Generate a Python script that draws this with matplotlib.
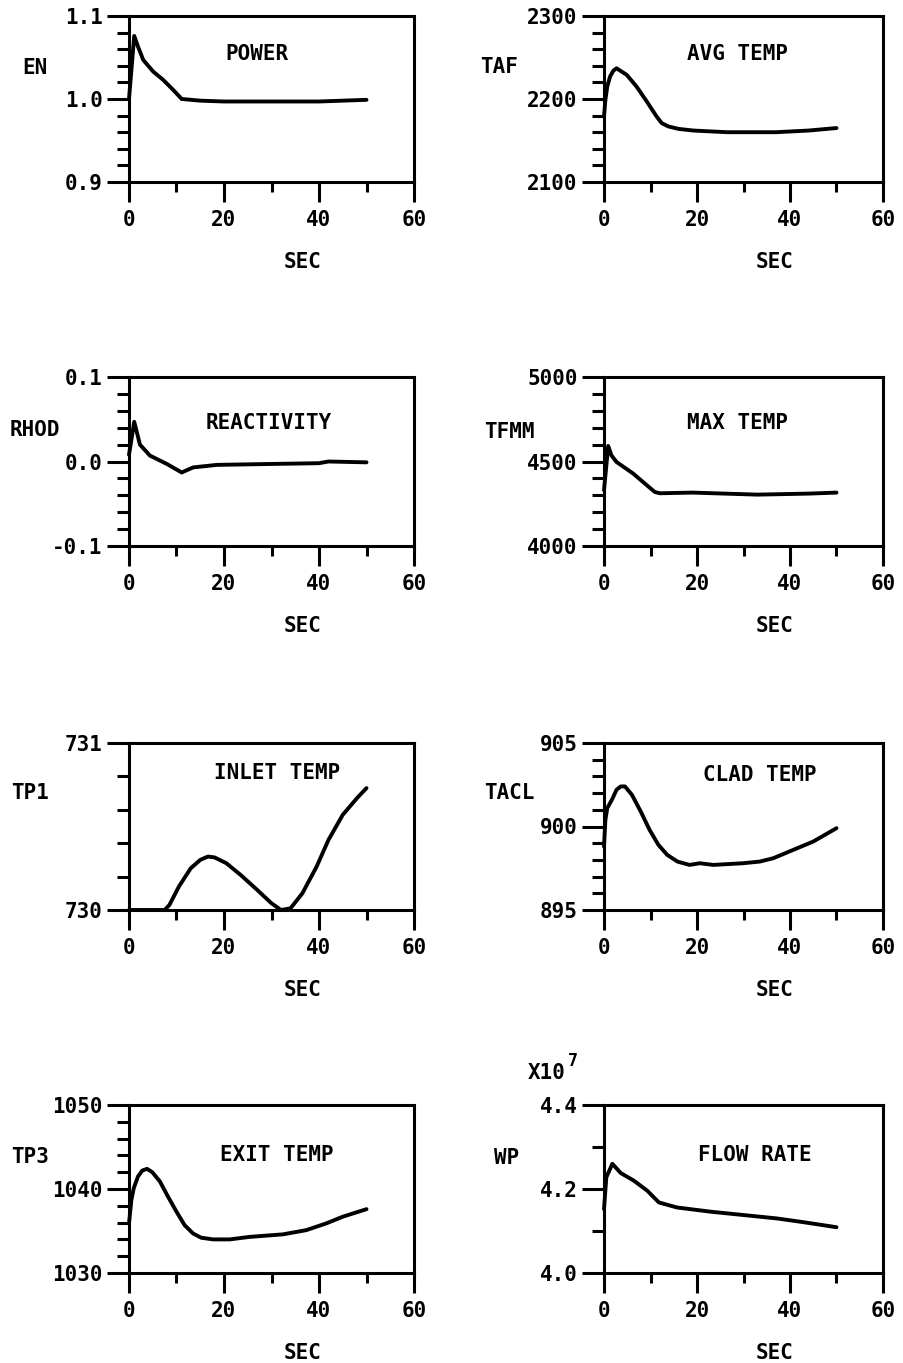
import matplotlib
matplotlib.use("Agg")
import matplotlib.pyplot as plt
from matplotlib.ticker import MultipleLocator, FixedLocator

plt.rcParams['font.family'] = ['DejaVu Sans Mono', 'DejaVu Sans']
plt.rcParams['font.weight'] = 'bold'

# ---------------- data ----------------
power_t = [0, 1.1, 1.9, 3.0, 5.1, 7.2, 9.3, 11.1, 15, 20, 30, 40, 50]
power_v = [1.0, 1.076, 1.063, 1.047, 1.033, 1.023, 1.011, 1.0, 0.998, 0.997, 0.997, 0.997, 0.999]

avg_t = [0, 0.3, 0.7, 1.3, 2.0, 2.7, 4.9, 7.0, 9.2, 11.3, 12.4, 13.8, 16.0, 19.2, 26.4, 37, 44, 50]
avg_v = [2179, 2199, 2215, 2227, 2234, 2237, 2229, 2215, 2197, 2179, 2171, 2167, 2164, 2162, 2160, 2160,
         2162, 2165]

react_t = [0, 1.1, 2.3, 4.4, 8, 11.1, 13.5, 18.5, 29, 40, 42, 50]
react_v = [0.008, 0.047, 0.02, 0.007, -0.003, -0.013, -0.007, -0.004, -0.003, -0.002, 0.0, -0.001]

maxt_t = [0, 0.9, 1.6, 2.7, 6.3, 10.9, 12, 19, 33, 44, 50]
maxt_v = [4330, 4592, 4536, 4497, 4428, 4320, 4312, 4316, 4304, 4310, 4316]

inlet_t = [0, 7.5, 8.5, 10.5, 13, 15, 16.6, 18, 20.5, 23.5, 27, 30, 32, 34, 36.5, 39.5, 42, 45, 48, 50]
inlet_v = [730, 730, 730.03, 730.14, 730.25, 730.30, 730.32, 730.315, 730.28, 730.21, 730.12, 730.04,
           730.0, 730.01, 730.10, 730.26, 730.42, 730.57, 730.67, 730.73]

clad_t = [0, 0.3, 0.7, 1.7, 2.7, 3.6, 4.5, 6.0, 7.9, 9.8, 11.7, 13.6, 15.8, 18.4, 20.6, 23.5, 29.9, 33.5,
          36.4, 40.7, 45, 50]
clad_v = [898.8, 900.4, 901.1, 901.6, 902.2, 902.4, 902.4, 901.9, 900.9, 899.8, 898.9, 898.3, 897.9,
          897.7, 897.8, 897.7, 897.8, 897.9, 898.1, 898.6, 899.1, 899.9]

exit_t = [0, 0.5, 1.0, 1.9, 2.8, 3.8, 4.9, 6.5, 8.2, 10.0, 11.7, 13.5, 15.2, 17.7, 21.2, 25.4, 32.4,
          37.3, 41.5, 45, 50]
exit_v = [1035.9, 1038.7, 1040.1, 1041.5, 1042.2, 1042.4, 1042.0, 1040.9, 1039.1, 1037.3, 1035.7,
          1034.7, 1034.2, 1034.0, 1034.0, 1034.3, 1034.6, 1035.1, 1035.9, 1036.7, 1037.6]

flow_t = [0, 0.5, 1.8, 3.6, 6.4, 9.3, 11.8, 15.7, 22.9, 30, 37.1, 42.9, 50]
flow_v = [4.152, 4.228, 4.26, 4.238, 4.22, 4.196, 4.168, 4.156, 4.146, 4.138, 4.13, 4.121, 4.109]

titles = ["POWER", "AVG TEMP", "REACTIVITY", "MAX TEMP", "INLET TEMP", "CLAD TEMP", "EXIT TEMP", "FLOW RATE"]
ylabels = ["EN", "TAF", "RHOD", "TFMM", "TP1", "TACL", "TP3", "WP"]
yticks = [[0.9, 1.0, 1.1], [2100, 2200, 2300], [-0.1, 0.0, 0.1], [4000, 4500, 5000],
          [730, 731], [895, 900, 905], [1030, 1040, 1050], [4.0, 4.2, 4.4]]
yticklabels = [["0.9", "1.0", "1.1"], ["2100", "2200", "2300"], ["-0.1", "0.0", "0.1"],
               ["4000", "4500", "5000"], ["730", "731"], ["895", "900", "905"],
               ["1030", "1040", "1050"], ["4.0", "4.2", "4.4"]]
yminor = [0.02, 20, 0.02, 100, 0.2, 1, 2, 0.1]
xticks = [0, 20, 40, 60]
xticklabels = ["0", "20", "40", "60"]
xminor = [10, 30, 50]
series = [(power_t, power_v), (avg_t, avg_v), (react_t, react_v), (maxt_t, maxt_v),
          (inlet_t, inlet_v), (clad_t, clad_v), (exit_t, exit_v), (flow_t, flow_v)]

# ---------------- layout (pixels) ----------------
W, H = 904, 1363
col_x = [(129, 285), (604, 279)]
rows = [(16, 182), (377, 546), (743, 910), (1105, 1273)]
title_pos = [(0.45, 0.77), (0.48, 0.77), (0.49, 0.73), (0.48, 0.73),
             (0.52, 0.82), (0.56, 0.81), (0.52, 0.70), (0.54, 0.70)]
ylabel_pos = [(35, 68), (499, 67), (35, 430), (509, 432), (30, 793), (509, 793), (30, 1157), (507, 1158)]

FS = 15
fig = plt.figure(figsize=(W / 100, H / 100), dpi=100)

for i in range(8):
    r, c = divmod(i, 2)
    x0, w = col_x[c]
    top, bot = rows[r]
    ax = fig.add_axes([x0 / W, 1 - bot / H, w / W, (bot - top) / H])
    t, v = series[i]
    ax.plot(t, v, color='black', lw=2.8, solid_joinstyle='round', solid_capstyle='round', clip_on=False)
    ax.set_xlim(0, 60)
    ax.set_ylim(yticks[i][0], yticks[i][-1])
    ax.xaxis.set_major_locator(FixedLocator(xticks))
    ax.set_xticklabels(xticklabels)
    ax.xaxis.set_minor_locator(FixedLocator(xminor))
    ax.yaxis.set_major_locator(FixedLocator(yticks[i]))
    ax.set_yticklabels(yticklabels[i])
    ax.yaxis.set_minor_locator(MultipleLocator(yminor[i]))
    for s in ax.spines.values():
        s.set_linewidth(2.2)
    ax.tick_params(axis='x', which='major', direction='out', length=14.5, width=2.2, pad=6, labelsize=FS)
    ax.tick_params(axis='x', which='minor', direction='out', length=7.5, width=2.2)
    ax.tick_params(axis='y', which='major', direction='out', length=16, width=2.2, pad=3, labelsize=FS)
    ax.tick_params(axis='y', which='minor', direction='out', length=8.5, width=2.2)
    for lab in ax.get_xticklabels() + ax.get_yticklabels():
        lab.set_fontweight('bold')
    tx, ty = title_pos[i]
    ax.text(tx, ty, titles[i], transform=ax.transAxes, ha='center', va='center',
            fontsize=FS, fontweight='bold')
    ax.annotate('SEC', xy=(0.61, 0), xycoords='axes fraction', xytext=(0, -80 * 0.72),
                textcoords='offset points', ha='center', va='center', fontsize=FS, fontweight='bold')
    lx, ly = ylabel_pos[i]
    fig.text(lx / W, 1 - ly / H, ylabels[i], ha='center', va='center', fontsize=FS, fontweight='bold')

fig.text(547 / W, 1 - 1073 / H, "X10", ha='center', va='center', fontsize=FS, fontweight='bold')
fig.text(573 / W, 1 - 1061 / H, "7", ha='center', va='center', fontsize=FS - 3, fontweight='bold')

fig.savefig("out.png", dpi=100)
